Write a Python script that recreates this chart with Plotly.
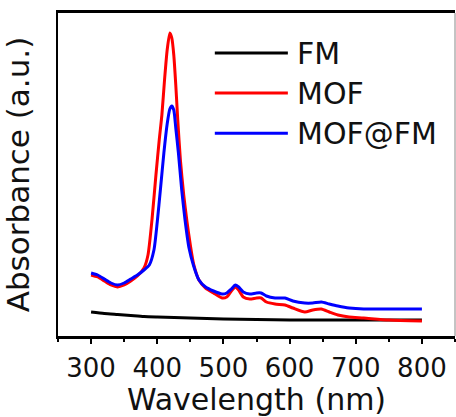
import plotly.graph_objects as go

# Wavelengths (nm) and absorbance (a.u.)
wl_fm = [300, 320, 340, 360, 380, 400, 450, 500, 550, 600, 700, 800]
abs_fm = [0.24, 0.225, 0.215, 0.205, 0.195, 0.19, 0.18, 0.17, 0.165, 0.16, 0.16, 0.16]

wl_mof = [300, 310, 320, 330, 340, 350, 360, 370, 380, 386, 392, 398, 403, 407, 411, 415,
          419, 422, 425, 428, 431, 435, 440, 445, 450, 455, 463, 473, 485, 498, 505, 512,
          518, 523, 530, 540, 550, 557, 565, 578, 593, 605, 623, 635, 648, 660, 673, 690,
          712, 750, 800]
abs_mof = [0.61, 0.59, 0.55, 0.51, 0.49, 0.51, 0.55, 0.60, 0.68, 0.81, 1.16, 1.61, 1.96, 2.21,
           2.56, 2.86, 3.03, 2.98, 2.81, 2.51, 2.16, 1.76, 1.41, 1.14, 0.91, 0.72, 0.56, 0.48,
           0.43, 0.38, 0.39, 0.45, 0.49, 0.46, 0.39, 0.37, 0.38, 0.38, 0.34, 0.32, 0.31, 0.28,
           0.24, 0.26, 0.27, 0.24, 0.21, 0.19, 0.18, 0.16, 0.15]

wl_mofft = [300, 310, 320, 330, 340, 350, 360, 370, 380, 388, 395, 400, 405, 410, 415, 419,
            422, 425, 428, 432, 437, 442, 448, 455, 463, 473, 485, 498, 505, 512, 518, 523,
            530, 540, 550, 557, 565, 578, 593, 605, 623, 635, 648, 660, 673, 690, 712, 750, 800]
abs_mofft = [0.63, 0.61, 0.57, 0.53, 0.51, 0.53, 0.57, 0.61, 0.66, 0.71, 0.86, 1.14, 1.48, 1.83,
             2.12, 2.27, 2.30, 2.26, 2.08, 1.83, 1.46, 1.16, 0.88, 0.70, 0.56, 0.49, 0.45, 0.42,
             0.43, 0.47, 0.51, 0.49, 0.44, 0.42, 0.43, 0.43, 0.40, 0.38, 0.38, 0.35, 0.33, 0.33,
             0.34, 0.32, 0.30, 0.28, 0.27, 0.27, 0.27]

series = [("FM", wl_fm, abs_fm, "#000000"),
          ("MOF", wl_mof, abs_mof, "#ff0000"),
          ("MOF@FM", wl_mofft, abs_mofft, "#0000ff")]

x_ticks = [300, 400, 500, 600, 700, 800]
FONT = "DejaVu Sans"

fig = go.Figure()
for name, x, y, c in series:
    fig.add_trace(go.Scatter(x=x, y=y, mode="lines", name=name,
                             line=dict(color=c, width=3, shape="spline", smoothing=0.6),
                             showlegend=False))

# custom legend (long line samples as in reference)
leg_y = [0.876, 0.752, 0.628]
for (name, _, _, c), ly in zip(series, leg_y):
    fig.add_shape(type="line", xref="paper", yref="paper", x0=0.395, x1=0.579, y0=ly, y1=ly,
                  line=dict(color=c, width=3))
    fig.add_annotation(xref="paper", yref="paper", x=0.597, y=ly, text=name, showarrow=False,
                       xanchor="left", yanchor="middle", font=dict(family=FONT, size=30, color="#111"))

# right frame edge (thin grey)
fig.add_shape(type="line", xref="paper", yref="paper", x0=1, x1=1, y0=0, y1=1,
              line=dict(color="#888", width=1))

fig.update_layout(
    width=456, height=417,
    margin=dict(l=58, r=1, t=13, b=81, autoexpand=False),
    paper_bgcolor="white", plot_bgcolor="white",
    font=dict(family=FONT, color="#111"),
    xaxis=dict(range=[250, 850], tickvals=x_ticks, ticktext=[str(v) for v in x_ticks],
               ticks="outside", ticklen=5, tickwidth=1.5, tickcolor="black",
               minor=dict(dtick=50, tick0=250, ticks="outside", ticklen=3, tickwidth=1.5, tickcolor="black"),
               showline=True, linecolor="black", linewidth=2.5, mirror=True,
               showgrid=False, zeroline=False, automargin=False, ticklabelstandoff=2,
               tickfont=dict(family=FONT, size=26, color="#111"),
               title=dict(text="Wavelength (nm)", font=dict(family=FONT, size=30, color="#111"), standoff=0)),
    yaxis=dict(range=[0, 3.23], showticklabels=False, ticks="", showgrid=False, zeroline=False,
               showline=True, linecolor="black", linewidth=2, automargin=False,
               title=dict(text="Absorbance (a.u.)", font=dict(family=FONT, size=31, color="#111"), standoff=26)),
)

fig.write_html("out.html", config={"displayModeBar": False},
               post_script="document.body.style.margin='0';document.body.style.overflow='hidden';")
